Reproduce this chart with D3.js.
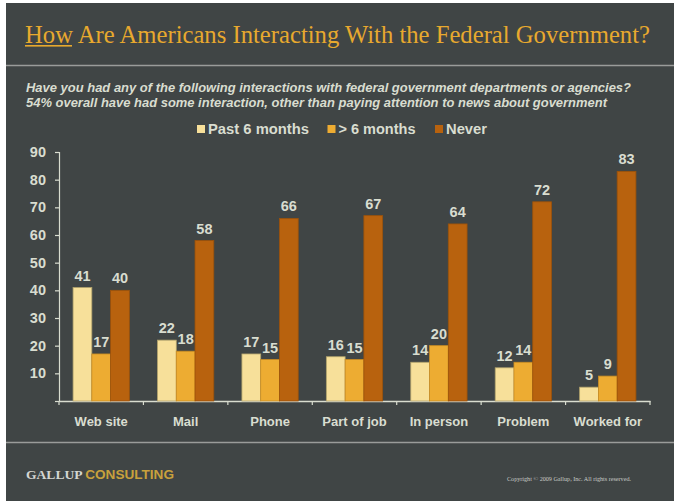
<!DOCTYPE html>
<html>
<head>
<meta charset="utf-8">
<script src="https://cdn.jsdelivr.net/npm/d3@7"></script>
<style>
  html, body { margin: 0; padding: 0; background: #ffffff; }
  svg { display: block; }
</style>
</head>
<body>
<svg id="chart" width="674" height="501"></svg>
<script>
const categories = ["Web site", "Mail", "Phone", "Part of job", "In person", "Problem", "Worked for"];
const seriesNames = ["Past 6 months", "> 6 months", "Never"];
const past6 = [41, 22, 17, 16, 14, 12, 5];
const over6 = [17, 18, 15, 15, 20, 14, 9];
const never = [40, 58, 66, 67, 64, 72, 83];
const yTicks = [10, 20, 30, 40, 50, 60, 70, 80, 90];
const colors = ["#f7e09a", "#edac32", "#b8620e"];
const strokes = ["#b3a46c", "#c98c22", "#9c520a"];
const seriesValues = [past6, over6, never];

const svg = d3.select("#chart");
const light = "#d9ddd0";
const gold = "#e8a92e";

// background
svg.append("rect").attr("x", 6).attr("y", 3).attr("width", 668).attr("height", 498).attr("fill", "#404545");
// separator lines
svg.append("line").attr("x1", 6).attr("x2", 674).attr("y1", 65.5).attr("y2", 65.5).attr("stroke", "#9a9c9a").attr("stroke-width", 1.5);
svg.append("line").attr("x1", 6).attr("x2", 674).attr("y1", 442.5).attr("y2", 442.5).attr("stroke", "#9a9c9a").attr("stroke-width", 1.5);

// title
const title = svg.append("text").attr("x", 25).attr("y", 43)
  .attr("font-family", "'Liberation Serif', 'DejaVu Serif', serif")
  .attr("font-size", 24.5).attr("fill", gold)
  .attr("textLength", 625).attr("lengthAdjust", "spacingAndGlyphs");
title.append("tspan").text("How");
title.append("tspan").text(" Are Americans Interacting With the Federal Government?");
svg.append("rect").attr("x", 25).attr("y", 45).attr("width", 47).attr("height", 1.6).attr("fill", gold);

// subtitle
const subLines = [
  "Have you had any of the following interactions with federal government departments or agencies?",
  "54% overall have had some interaction, other than paying attention to news about government"
];
const subLens = [605, 581];
subLines.forEach((t, i) => {
  svg.append("text").attr("x", 26).attr("y", 92 + i * 15)
    .attr("font-family", "'Liberation Sans', Arial, sans-serif")
    .attr("font-size", 12.5).attr("font-weight", "bold").attr("font-style", "italic")
    .attr("fill", light)
    .attr("textLength", subLens[i]).attr("lengthAdjust", "spacingAndGlyphs")
    .text(t);
});

// legend
const legendX = [197, 327.5, 435];
const legendTextLen = [101, 77, 41];
seriesNames.forEach((s, i) => {
  svg.append("rect").attr("x", legendX[i]).attr("y", 125).attr("width", 8).attr("height", 8).attr("fill", colors[i]);
  svg.append("text").attr("x", legendX[i] + 11).attr("y", 134)
    .attr("font-family", "'Liberation Sans', Arial, sans-serif")
    .attr("font-size", 14).attr("font-weight", "bold").attr("fill", light)
    .attr("textLength", legendTextLen[i]).attr("lengthAdjust", "spacingAndGlyphs")
    .text(s);
});

// scales
const x0 = d3.scaleBand().domain(categories).range([59, 650]).paddingInner(0).paddingOuter(0);
const bw = x0.bandwidth();
const x1 = d3.scaleBand().domain(d3.range(3)).range([bw / 6, bw * 5 / 6]).padding(0);
const y = d3.scaleLinear().domain([0, 90]).range([401, 152]);

// y axis
const yAxis = svg.append("g").attr("transform", "translate(59,0)")
  .call(d3.axisLeft(y).tickValues([0].concat(yTicks)).tickSize(4).tickPadding(9).tickFormat(d => d === 0 ? "" : d));
yAxis.select(".domain").attr("stroke", light).attr("stroke-width", 1.2);
yAxis.selectAll(".tick line").attr("stroke", light).attr("stroke-width", 1.2);
yAxis.selectAll(".tick text").attr("fill", light)
  .attr("font-family", "'Liberation Sans', Arial, sans-serif").attr("font-size", 14.5).attr("font-weight", "bold");

// x axis
const xAxis = svg.append("g").attr("transform", "translate(0,401)")
  .call(d3.axisBottom(x0).tickSize(0).tickPadding(16));
xAxis.select(".domain").attr("stroke", light).attr("stroke-width", 1.5);
xAxis.selectAll(".tick text").attr("fill", light)
  .attr("font-family", "'Liberation Sans', Arial, sans-serif").attr("font-size", 13).attr("font-weight", "bold");
const boundaries = categories.map(c => x0(c)).concat([x0.range()[1]]);
xAxis.selectAll(".bound").data(boundaries).enter().append("line")
  .attr("x1", d => d).attr("x2", d => d).attr("y1", 0).attr("y2", 4)
  .attr("stroke", light).attr("stroke-width", 1.2);

// bars
const groups = svg.append("g").selectAll("g").data(categories).enter().append("g")
  .attr("transform", c => `translate(${x0(c)},0)`);
groups.each(function(c, ci) {
  const g = d3.select(this);
  seriesValues.forEach((vals, si) => {
    const v = vals[ci];
    g.append("rect")
      .attr("x", x1(si)).attr("y", y(v))
      .attr("width", x1.bandwidth()).attr("height", y(0) - y(v))
      .attr("fill", colors[si]).attr("stroke", strokes[si]).attr("stroke-width", 0.8);
    g.append("text")
      .attr("x", x1(si) + x1.bandwidth() / 2).attr("y", y(v) - 7)
      .attr("text-anchor", "middle")
      .attr("font-family", "'Liberation Sans', Arial, sans-serif")
      .attr("font-size", 14.5).attr("font-weight", "bold").attr("fill", light)
      .text(v);
  });
});

// footer
const foot = svg.append("text").attr("x", 26).attr("y", 479)
  .attr("font-size", 12.5).attr("font-weight", "bold")
  .attr("textLength", 148).attr("lengthAdjust", "spacingAndGlyphs");
foot.append("tspan").attr("font-family", "'Liberation Serif', serif").attr("fill", "#d4d6d2").text("GALLUP ");
foot.append("tspan").attr("font-family", "'Liberation Sans', Arial, sans-serif").attr("fill", "#c9a13c").text("CONSULTING");
svg.append("text").attr("x", 507).attr("y", 481)
  .attr("font-family", "'Liberation Serif', serif").attr("font-size", 5.6).attr("fill", "#c8cac6")
  .attr("textLength", 124).attr("lengthAdjust", "spacingAndGlyphs")
  .text("Copyright © 2009 Gallup, Inc. All rights reserved.");
</script>
</body>
</html>
